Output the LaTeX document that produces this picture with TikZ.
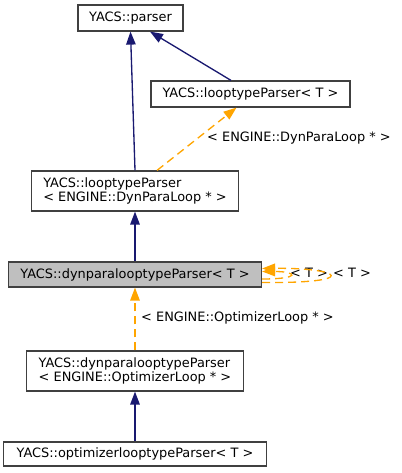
\documentclass[tikz,border=0pt]{standalone}
\usepackage{fontspec}
\setmainfont{DejaVu Sans}
\usetikzlibrary{arrows.meta}
\definecolor{edgeblue}{RGB}{25,25,112}
\definecolor{edgeorange}{RGB}{255,165,0}
\definecolor{boxline}{RGB}{64,64,64}
\definecolor{boxfill}{RGB}{191,191,191}
\begin{document}
\begin{tikzpicture}[x=1pt,y=-1pt,
  font=\fontsize{12.9}{14.7}\selectfont,
  cls/.style={draw=boxline,line width=1.2pt,fill=white,inner sep=0pt,align=left},
  inh/.style={edgeblue,line width=1.33pt,-{Triangle[length=13pt,width=9.5pt]}},
  dep/.style={edgeorange,line width=1.33pt,dash pattern=on 8pt off 5pt,-{Triangle[length=13pt,width=9.5pt]}},
  lbl/.style={inner sep=0pt,anchor=west}]
\useasboundingbox (0,0) rectangle (401,473);
% classes
\node [cls,minimum width=105pt,minimum height=26pt] (parser) at (130.5,18) {YACS::parser};
\node [cls,minimum width=199pt,minimum height=26pt] (loopT) at (250.5,94) {YACS::looptypeParser< T >};
\node [cls,minimum width=207pt,minimum height=40pt] (loopDyn) at (135,191) {YACS::looptypeParser\\< ENGINE::DynParaLoop * >};
\node [cls,fill=boxfill,minimum width=253pt,minimum height=25pt] (dyn) at (135,274.5) {YACS::dynparalooptypeParser< T >};
\node [cls,minimum width=217pt,minimum height=40pt] (dynOpt) at (135,371) {YACS::dynparalooptypeParser\\< ENGINE::OptimizerLoop * >};
\node [cls,minimum width=263pt,minimum height=24pt] (optT) at (135,454) {YACS::optimizerlooptypeParser< T >};
% labels
\node [lbl] (lDyn) at (207,138) {< ENGINE::DynParaLoop * >};
\node [lbl] (lOpt) at (141,318) {< ENGINE::OptimizerLoop * >};
\node [lbl] (lT1) at (290,273) {< T >};
\node [lbl] (lT2) at (333,273) {< T >};
% edges
\draw [inh] (loopDyn.north) -- (parser.south);
\draw [inh] ([xshift=-19.5pt]loopT.north) -- ([xshift=19.5pt]parser.south);
\draw [dep] ([xshift=22pt]loopDyn.north) -- ([xshift=-14pt]loopT.south);
\draw [inh] (dyn.north) -- (loopDyn.south);
\draw [dep] (dynOpt.north) -- (dyn.south);
\draw [inh] (optT.north) -- (dynOpt.south);
\draw [dep] ([yshift=-4.5pt]dyn.east) .. controls +(40,0) and +(35,0) .. ([yshift=3pt]dyn.east);
\draw [dep] ([yshift=-8pt]dyn.east) .. controls +(100,1) and +(80,-1) .. ([yshift=6pt]dyn.east);
\end{tikzpicture}
\end{document}
